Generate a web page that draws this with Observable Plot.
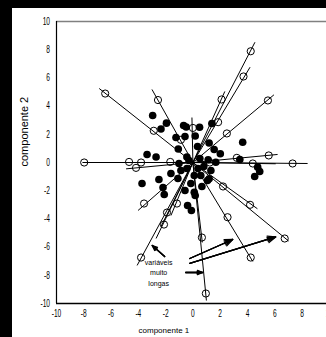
<!DOCTYPE html>
<html><head><meta charset="utf-8">
<script src="https://cdn.jsdelivr.net/npm/d3@7"></script>
<script src="https://cdn.jsdelivr.net/npm/@observablehq/plot@0.6"></script>
<style>
html, body { margin:0; padding:0; background:#000; overflow:hidden; width:326px; height:337px; }
#box { position:absolute; left:12px; top:8px; width:330px; height:329px; background:#fff; }
#box svg { display:block; }
</style></head>
<body><div id="box"></div>
<script>
// axis ticks
const ticks = [-10, -8, -6, -4, -2, 0, 2, 4, 6, 8, 10];

// object scores (filled dots)
const scoreX = [-2.95,-1.94,-2.34,-0.68,-0.49,0.49,1.39,-1.24,-0.58,0.17,-1.07,0.34,-3.36,-2.70,1.19,1.56,2.01,-0.44,-0.88,-1.61,-2.49,-3.73,-2.19,-2.10,-1.10,0.58,1.19,1.68,1.12,3.65,3.44,4.75,4.90,4.53,0.10,-0.39,-0.11,0.17,1.07,0.10,-0.29,0.51,0.80,-0.44,0.37,-0.15,0.66,-0.58,1.32,-1.02];
const scoreY = [3.33,2.79,2.38,2.62,2.52,2.50,2.77,1.77,1.84,1.88,0.96,1.13,0.57,0.39,1.38,0.92,0.62,0.39,-0.57,-0.78,-1.21,-1.49,-1.77,-2.27,-1.13,-0.92,-1.16,0.02,0.19,1.44,0.21,-0.33,-0.64,-0.99,-2.11,-3.05,-3.40,-2.34,-1.28,-0.92,0.14,0.28,-0.28,-0.43,-0.43,-1.49,-1.70,-1.99,-0.57,-0.07];

// variables: circle position and end of the line drawn from the origin
const varX = [-6.43,-2.56,0.00,4.24,3.71,2.10,5.50,-7.97,5.56,7.31,4.39,-4.17,-3.58,-3.80,-2.12,-1.90,-1.17,0.95,0.66,4.24,6.73,4.19];
const varY = [4.89,4.43,2.45,7.89,6.10,4.47,4.40,0.00,0.50,-0.07,-0.07,-0.38,-2.91,-6.74,-4.40,-3.55,-2.91,-9.29,-5.32,-6.74,-5.39,-3.00];
const endX = [-6.87,-3.00,-0.07,4.55,4.19,2.34,5.94,-8.10,6.21,8.41,6.07,-4.90,-4.02,-4.09,-2.70,-2.34,-1.61,0.99,0.69,4.39,7.02,4.73];
const endY = [5.25,5.18,3.19,8.53,6.76,5.04,4.80,0.00,0.57,-0.07,-0.09,-0.45,-3.40,-7.30,-5.39,-4.54,-3.76,-9.79,-5.67,-7.02,-5.57,-3.28];

// further variable circles lying on the lines
const extraX = [-2.87,-0.88,1.85,2.49,3.22,-4.68,-3.80,-1.66,1.24,2.21,2.54];
const extraY = [2.25,1.61,2.86,2.06,0.33,0.04,0.00,0.04,0.00,-1.70,-3.88];

// annotation
const noteLines = ["variáveis", "muito", "longas"];
const noteX = [-2.51, -2.51, -2.51];
const noteY = [-7.09, -7.85, -8.58];
const arrowX1 = [-2.07, -0.23, -0.23, -0.53];
const arrowY1 = [-6.67, -6.81, -7.16, -7.80];
const arrowX2 = [-2.98, 2.92, 6.07, 0.72];
const arrowY2 = [-5.89, -5.46, -5.28, -7.80];

const vars = varX.map((x, i) => ({cx: x, cy: varY[i], ex: endX[i], ey: endY[i]}));
const scores = scoreX.map((x, i) => ({x, y: scoreY[i]}));
const extras = extraX.map((x, i) => ({x, y: extraY[i]}));
const notes = noteLines.map((t, i) => ({t, x: noteX[i], y: noteY[i]}));
const arrows = arrowX1.map((x, i) => ({x1: x, y1: arrowY1[i], x2: arrowX2[i], y2: arrowY2[i]}));

const arrowOpts = {x1: "x1", y1: "y1", x2: "x2", y2: "y2", stroke: "#000", strokeWidth: 1.3, headLength: 10};

const plot = Plot.plot({
  width: 330, height: 329,
  marginLeft: 44, marginRight: 13.2, marginTop: 13, marginBottom: 34,
  style: {fontFamily: '"Liberation Sans", Arial, sans-serif', fontSize: "10px", background: "#fff", color: "#000", overflow: "visible"},
  x: {domain: [-10, 10], ticks: ticks, tickSize: 0, tickPadding: 6.5, tickFormat: d => String(d), label: null},
  y: {domain: [-10, 10], ticks: ticks, tickSize: 0, tickPadding: 6.5, tickFormat: d => String(d), label: null},
  marks: [
    Plot.ruleY([10], {stroke: "#808080", strokeWidth: 1.6}),
    Plot.ruleY([-10], {stroke: "#000", strokeWidth: 1.4}),
    Plot.ruleX([-10], {stroke: "#000", strokeWidth: 1.2}),
    Plot.ruleX([10], {stroke: "#000", strokeWidth: 1.2}),
    Plot.link(vars, {x1: d => 0, y1: d => 0, x2: "ex", y2: "ey", stroke: "#000", strokeWidth: 1}),
    Plot.dot(scores, {x: "x", y: "y", r: 3.8, fill: "#000", stroke: "none"}),
    Plot.dot(vars, {x: "cx", y: "cy", r: 3.6, fill: "none", stroke: "#000", strokeWidth: 1}),
    Plot.dot(extras, {x: "x", y: "y", r: 3.6, fill: "none", stroke: "#000", strokeWidth: 1}),
    Plot.arrow(arrows, {...arrowOpts, headAngle: 45}),
    Plot.arrow(arrows, {...arrowOpts, headAngle: 28}),
    Plot.arrow(arrows, {...arrowOpts, headAngle: 12}),
    Plot.text(notes, {x: "x", y: "y", text: "t", fontSize: 7, fill: "#000", ariaLabel: "note"}),
    Plot.text(["componente 1"], {frameAnchor: "bottom", dx: -29, dy: 29, fontSize: 8, fill: "#000", ariaLabel: "xtitle"}),
    Plot.text(["componente 2"], {frameAnchor: "left", rotate: -90, dx: -32, dy: 4, fontSize: 11, fill: "#000", ariaLabel: "ytitle"})
  ]
});
document.getElementById("box").append(plot);

function condense(selector, f) {
  document.querySelectorAll(selector).forEach(t => {
    const L = t.getComputedTextLength();
    if (L > 0) {
      t.setAttribute("textLength", (L * f).toFixed(2));
      t.setAttribute("lengthAdjust", "spacingAndGlyphs");
    }
  });
}
condense('g[aria-label^="x-axis"] text, g[aria-label^="y-axis"] text', 0.66);
condense('g[aria-label="xtitle"] text', 0.72);
condense('g[aria-label="note"] text', 0.62);
</script>
</body></html>
